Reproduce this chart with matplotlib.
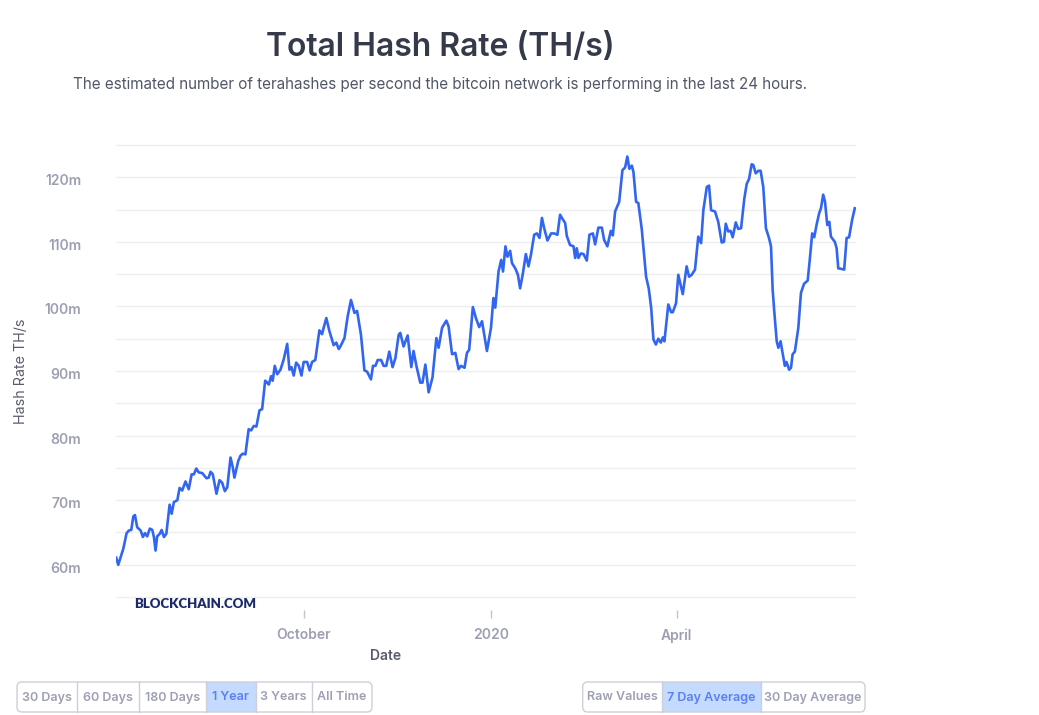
import datetime as dt
import matplotlib
matplotlib.use('Agg')
import matplotlib.pyplot as plt
import matplotlib.dates as mdates
import matplotlib.transforms as mtransforms
from matplotlib.patches import FancyBboxPatch, Rectangle

plt.rcParams['font.family'] = ['Inter', 'DejaVu Sans']

# ---- data (7 day average) ----
start_date = dt.datetime(2019, 7, 1)
day_offsets = [
    0.0, 1.0, 2.2, 3.5, 5.1, 6.2, 7.4, 8.4, 9.2, 10.3, 12.0, 13.1, 14.1, 15.2,
    16.5, 17.7, 18.5, 19.3, 20.1, 21.4, 22.3, 23.4, 24.6, 26.2, 27.2, 28.3,
    30.0, 31.1, 32.4, 34.0, 35.6, 37.0, 38.1, 39.3, 40.5, 42.2, 44.3, 45.4,
    46.3, 47.4, 49.2, 50.7, 52.0, 53.3, 54.5, 56.1, 57.2, 58.0, 59.9, 61.0,
    62.1, 63.4, 65.0, 66.2, 67.5, 68.8, 70.3, 71.6, 73.1, 74.1, 74.9, 76.0,
    76.8, 77.8, 79.0, 80.6, 82.2, 83.9, 85.0, 86.0, 87.1, 88.3, 89.6, 90.9,
    92.0, 93.7, 94.9, 96.1, 97.7, 99.7, 101.0, 101.8, 103.1, 104.6, 106.7,
    108.0, 109.2, 110.0, 112.0, 113.6, 115.2, 116.9, 118.2, 120.1, 121.8,
    123.1, 125.0, 126.0, 127.2, 128.3, 130.0, 131.2, 132.5, 134.0, 135.6,
    137.0, 138.6, 139.4, 141.0, 143.0, 144.8, 145.9, 147.3, 149.2, 150.3,
    151.7, 153.3, 155.2, 157.1, 158.2, 159.9, 162.0, 163.1, 164.8, 166.4,
    168.0, 169.2, 170.9, 172.1, 173.2, 175.0, 176.5, 178.1, 179.5, 181.9,
    183.9, 185.1, 186.0, 187.6, 188.9, 189.8, 191.0, 192.0, 193.3, 194.2,
    195.8, 197.1, 198.2, 199.6, 201.0, 202.3, 203.5, 205.1, 206.4, 207.7,
    208.9, 210.0, 211.6, 213.4, 214.9, 216.5, 217.8, 218.9, 220.3, 221.1,
    222.7, 224.4, 225.2, 226.0, 226.8, 228.0, 229.3, 230.9, 232.2, 233.9,
    235.0, 236.6, 238.3, 239.4, 241.0, 242.7, 243.7, 244.8, 246.8, 248.4,
    249.7, 250.8, 251.8, 253.0, 253.8, 255.1, 256.2, 257.9, 260.0, 261.3,
    262.5, 263.6, 264.8, 266.0, 267.2, 268.2, 269.0, 270.9, 272.3, 273.1,
    274.7, 275.8, 278.0, 279.9, 281.1, 282.4, 284.0, 285.6, 287.0, 288.1,
    289.8, 290.9, 291.9, 293.8, 295.4, 297.1, 298.2, 299.1, 300.3, 301.5,
    302.5, 304.0, 305.2, 306.6, 308.2, 309.4, 310.5, 311.8, 312.6, 313.8,
    315.1, 316.2, 317.5, 318.8, 320.3, 321.3, 322.1, 322.9, 324.1, 324.9,
    326.0, 326.8, 328.1, 328.9, 330.2, 331.1, 331.9, 333.0, 334.7, 336.0,
    337.5, 339.3, 340.4, 341.5, 342.5, 343.7, 344.9, 345.8, 346.9, 347.8,
    348.9, 349.9, 350.7, 352.6, 353.5, 354.3, 356.0, 357.2, 358.4, 359.6,
    361.1, 362.4,
]
hash_rate = [
    61.1, 60.0, 61.2, 62.5, 64.9, 65.3, 65.4, 67.5, 67.7, 65.8, 65.3, 64.3,
    64.9, 64.4, 65.6, 65.4, 64.3, 62.2, 64.4, 64.8, 65.4, 64.3, 64.8, 69.3,
    67.9, 69.7, 70.0, 71.9, 71.5, 72.9, 71.7, 74.0, 74.0, 74.9, 74.3, 74.2,
    73.4, 73.5, 74.4, 74.0, 71.0, 73.1, 72.7, 71.4, 72.0, 76.6, 75.1, 73.5,
    76.1, 76.9, 77.2, 77.1, 81.0, 80.8, 81.5, 81.4, 83.9, 84.1, 88.5, 88.2,
    87.9, 89.2, 88.5, 90.8, 89.5, 90.2, 91.8, 94.2, 90.2, 90.6, 89.3, 91.3,
    90.8, 89.3, 91.4, 91.4, 90.1, 91.4, 91.7, 96.3, 95.7, 96.7, 98.2, 96.2,
    94.0, 94.4, 93.4, 93.8, 95.1, 98.5, 101.0, 99.0, 99.3, 95.6, 90.1, 89.9,
    88.7, 90.8, 90.8, 91.7, 91.7, 90.8, 90.8, 93.0, 90.6, 92.0, 95.6, 95.9,
    93.8, 95.5, 90.6, 93.1, 90.8, 88.2, 88.2, 91.0, 86.7, 89.0, 95.1, 93.6,
    96.7, 97.8, 96.9, 92.6, 92.8, 90.3, 90.8, 90.5, 92.8, 93.3, 99.9, 98.2,
    96.8, 97.7, 93.1, 96.7, 101.3, 99.8, 105.4, 107.2, 105.4, 109.3, 107.7,
    108.6, 106.7, 105.9, 104.9, 102.8, 105.2, 108.1, 106.2, 108.0, 111.1,
    111.3, 110.6, 113.7, 112.1, 110.2, 111.3, 111.3, 111.1, 114.2, 113.6,
    112.9, 110.9, 109.5, 109.3, 107.5, 109.0, 107.5, 108.2, 108.1, 107.1,
    111.1, 111.3, 109.6, 112.2, 112.2, 110.3, 109.3, 111.7, 111.0, 114.7,
    116.2, 121.1, 121.5, 123.2, 121.3, 121.8, 120.8, 116.2, 116.0, 111.9,
    104.6, 102.8, 99.8, 94.9, 94.1, 95.0, 94.4, 95.2, 94.6, 100.3, 99.1,
    99.1, 100.5, 104.9, 101.9, 106.2, 104.6, 104.9, 105.7, 110.8, 109.8,
    114.9, 118.5, 118.7, 114.9, 114.7, 113.1, 109.9, 110.0, 112.8, 111.6,
    111.7, 110.7, 113.0, 112.0, 112.1, 116.7, 119.0, 119.7, 122.0, 121.9,
    120.6, 121.0, 121.0, 118.5, 112.1, 110.6, 109.3, 102.6, 99.2, 94.6,
    93.6, 94.6, 93.1, 90.8, 91.4, 90.2, 90.5, 92.6, 93.0, 96.7, 102.1,
    103.5, 104.0, 107.5, 111.3, 110.7, 112.7, 114.4, 115.2, 117.3, 116.2,
    112.6, 113.1, 110.8, 110.0, 109.0, 105.9, 105.8, 105.7, 110.6, 110.7,
    113.4, 115.2,
]
x_tick_dates = ['2019-10-01', '2020-01-01', '2020-04-01']
x_tick_labels = ['October', '2020', 'April']
y_grid_values = [55, 60, 65, 70, 75, 80, 85, 90, 95, 100, 105, 110, 115, 120, 125]
y_label_values = [60, 70, 80, 90, 100, 110, 120]
range_buttons = ['30 Days', '60 Days', '180 Days', '1 Year', '3 Years', 'All Time']
average_buttons = ['Raw Values', '7 Day Average', '30 Day Average']
active_range = '1 Year'
active_average = '7 Day Average'

# ---- layout (pixels) ----
W, H = 1039, 715
LINE_BLUE = '#3366f0'
GRID = '#eeeff3'
TICK_GREY = '#9d9fb3'
LABEL_GREY = '#595c6d'
ACTIVE_FILL = '#c4dafe'
ACTIVE_TEXT = '#5b7ff3'
BORDER = '#cdcfda'

fig = plt.figure(figsize=(W / 100, H / 100), dpi=100)

# background overlay in pixel coords for the page bits (title, buttons)
bg = fig.add_axes([0, 0, 1, 1])
bg.set_xlim(0, W)
bg.set_ylim(H, 0)
bg.axis('off')

ax = fig.add_axes([116 / W, 1 - 610 / H, (856 - 116) / W, (610 - 143) / H])
ax.patch.set_alpha(0)

dates = [start_date + dt.timedelta(days=d) for d in day_offsets]
ax.plot(dates, hash_rate, color=LINE_BLUE, lw=1.9, solid_joinstyle='round', zorder=3)

ax.set_xlim(start_date - dt.timedelta(days=0.1), start_date + dt.timedelta(days=363))
ax.set_ylim(53.0, 125.3)

for v in y_grid_values:
    ax.axhline(v, color=GRID, lw=1.0, zorder=1)
ax.set_yticks(y_label_values)
ax.set_yticklabels([f'{v}m' for v in y_label_values])
ax.tick_params(axis='y', length=0, pad=25, labelsize=10, labelcolor=TICK_GREY)
shift = mtransforms.ScaledTranslation(0, -2.5 / 100, fig.dpi_scale_trans)
for lab in ax.get_yticklabels():
    lab.set_fontweight('semibold')
    lab.set_transform(lab.get_transform() + shift)

ax.set_xticks([mdates.date2num(dt.datetime.fromisoformat(d)) for d in x_tick_dates])
ax.set_xticklabels(x_tick_labels)
ax.tick_params(axis='x', length=6, width=1, color='#c0c3d0', pad=7,
               labelsize=10, labelcolor=TICK_GREY)
for lab in ax.get_xticklabels():
    lab.set_fontweight('semibold')

for s in ax.spines.values():
    s.set_visible(False)

bg.text(21, 371, 'Hash Rate TH/s', rotation=90, ha='center', va='center',
        fontsize=10.3, color=LABEL_GREY)
bg.text(386, 656, 'Date', ha='center', va='center', fontsize=10,
        fontweight='semibold', color=LABEL_GREY)

ax.text(134, 604, 'BLOCKCHAIN.COM', transform=bg.transData, ha='left', va='center',
        fontsize=9.5, fontweight='heavy', family=['Lato', 'DejaVu Sans'],
        color='#1b2a6b', zorder=4)

# ---- titles ----
bg.text(440, 47, 'Total Hash Rate (TH/s)', ha='center', va='center',
        fontsize=23, fontweight='semibold', color='#353a4b')
bg.text(440, 85, 'The estimated number of terahashes per second the bitcoin network '
        'is performing in the last 24 hours.', ha='center', va='center',
        fontsize=10.95, color='#525668')


# ---- buttons ----
def button_group(labels, edges, active, top=682, bottom=712):
    for i, lab in enumerate(labels):
        x0, x1 = edges[i], edges[i + 1]
        if lab == active:
            bg.add_patch(Rectangle((x0, top), x1 - x0, bottom - top,
                                   facecolor=ACTIVE_FILL, edgecolor='none'))
        if i > 0:
            bg.plot([x0, x0], [top, bottom], color=BORDER, lw=1)
        bg.text((x0 + x1) / 2, (top + bottom) / 2 + 0.5, lab, ha='center', va='center',
                fontsize=9, fontweight='semibold',
                color=ACTIVE_TEXT if lab == active else TICK_GREY)
    bg.add_patch(FancyBboxPatch((edges[0], top), edges[-1] - edges[0], bottom - top,
                                boxstyle='round,pad=0,rounding_size=5',
                                facecolor='none', edgecolor=BORDER, lw=1))


button_group(range_buttons, [17, 77, 138.5, 205.7, 255.7, 311.7, 372], active_range)
button_group(average_buttons, [582.7, 662.3, 760.7, 865], active_average)

fig.savefig('out.png', dpi=100)
